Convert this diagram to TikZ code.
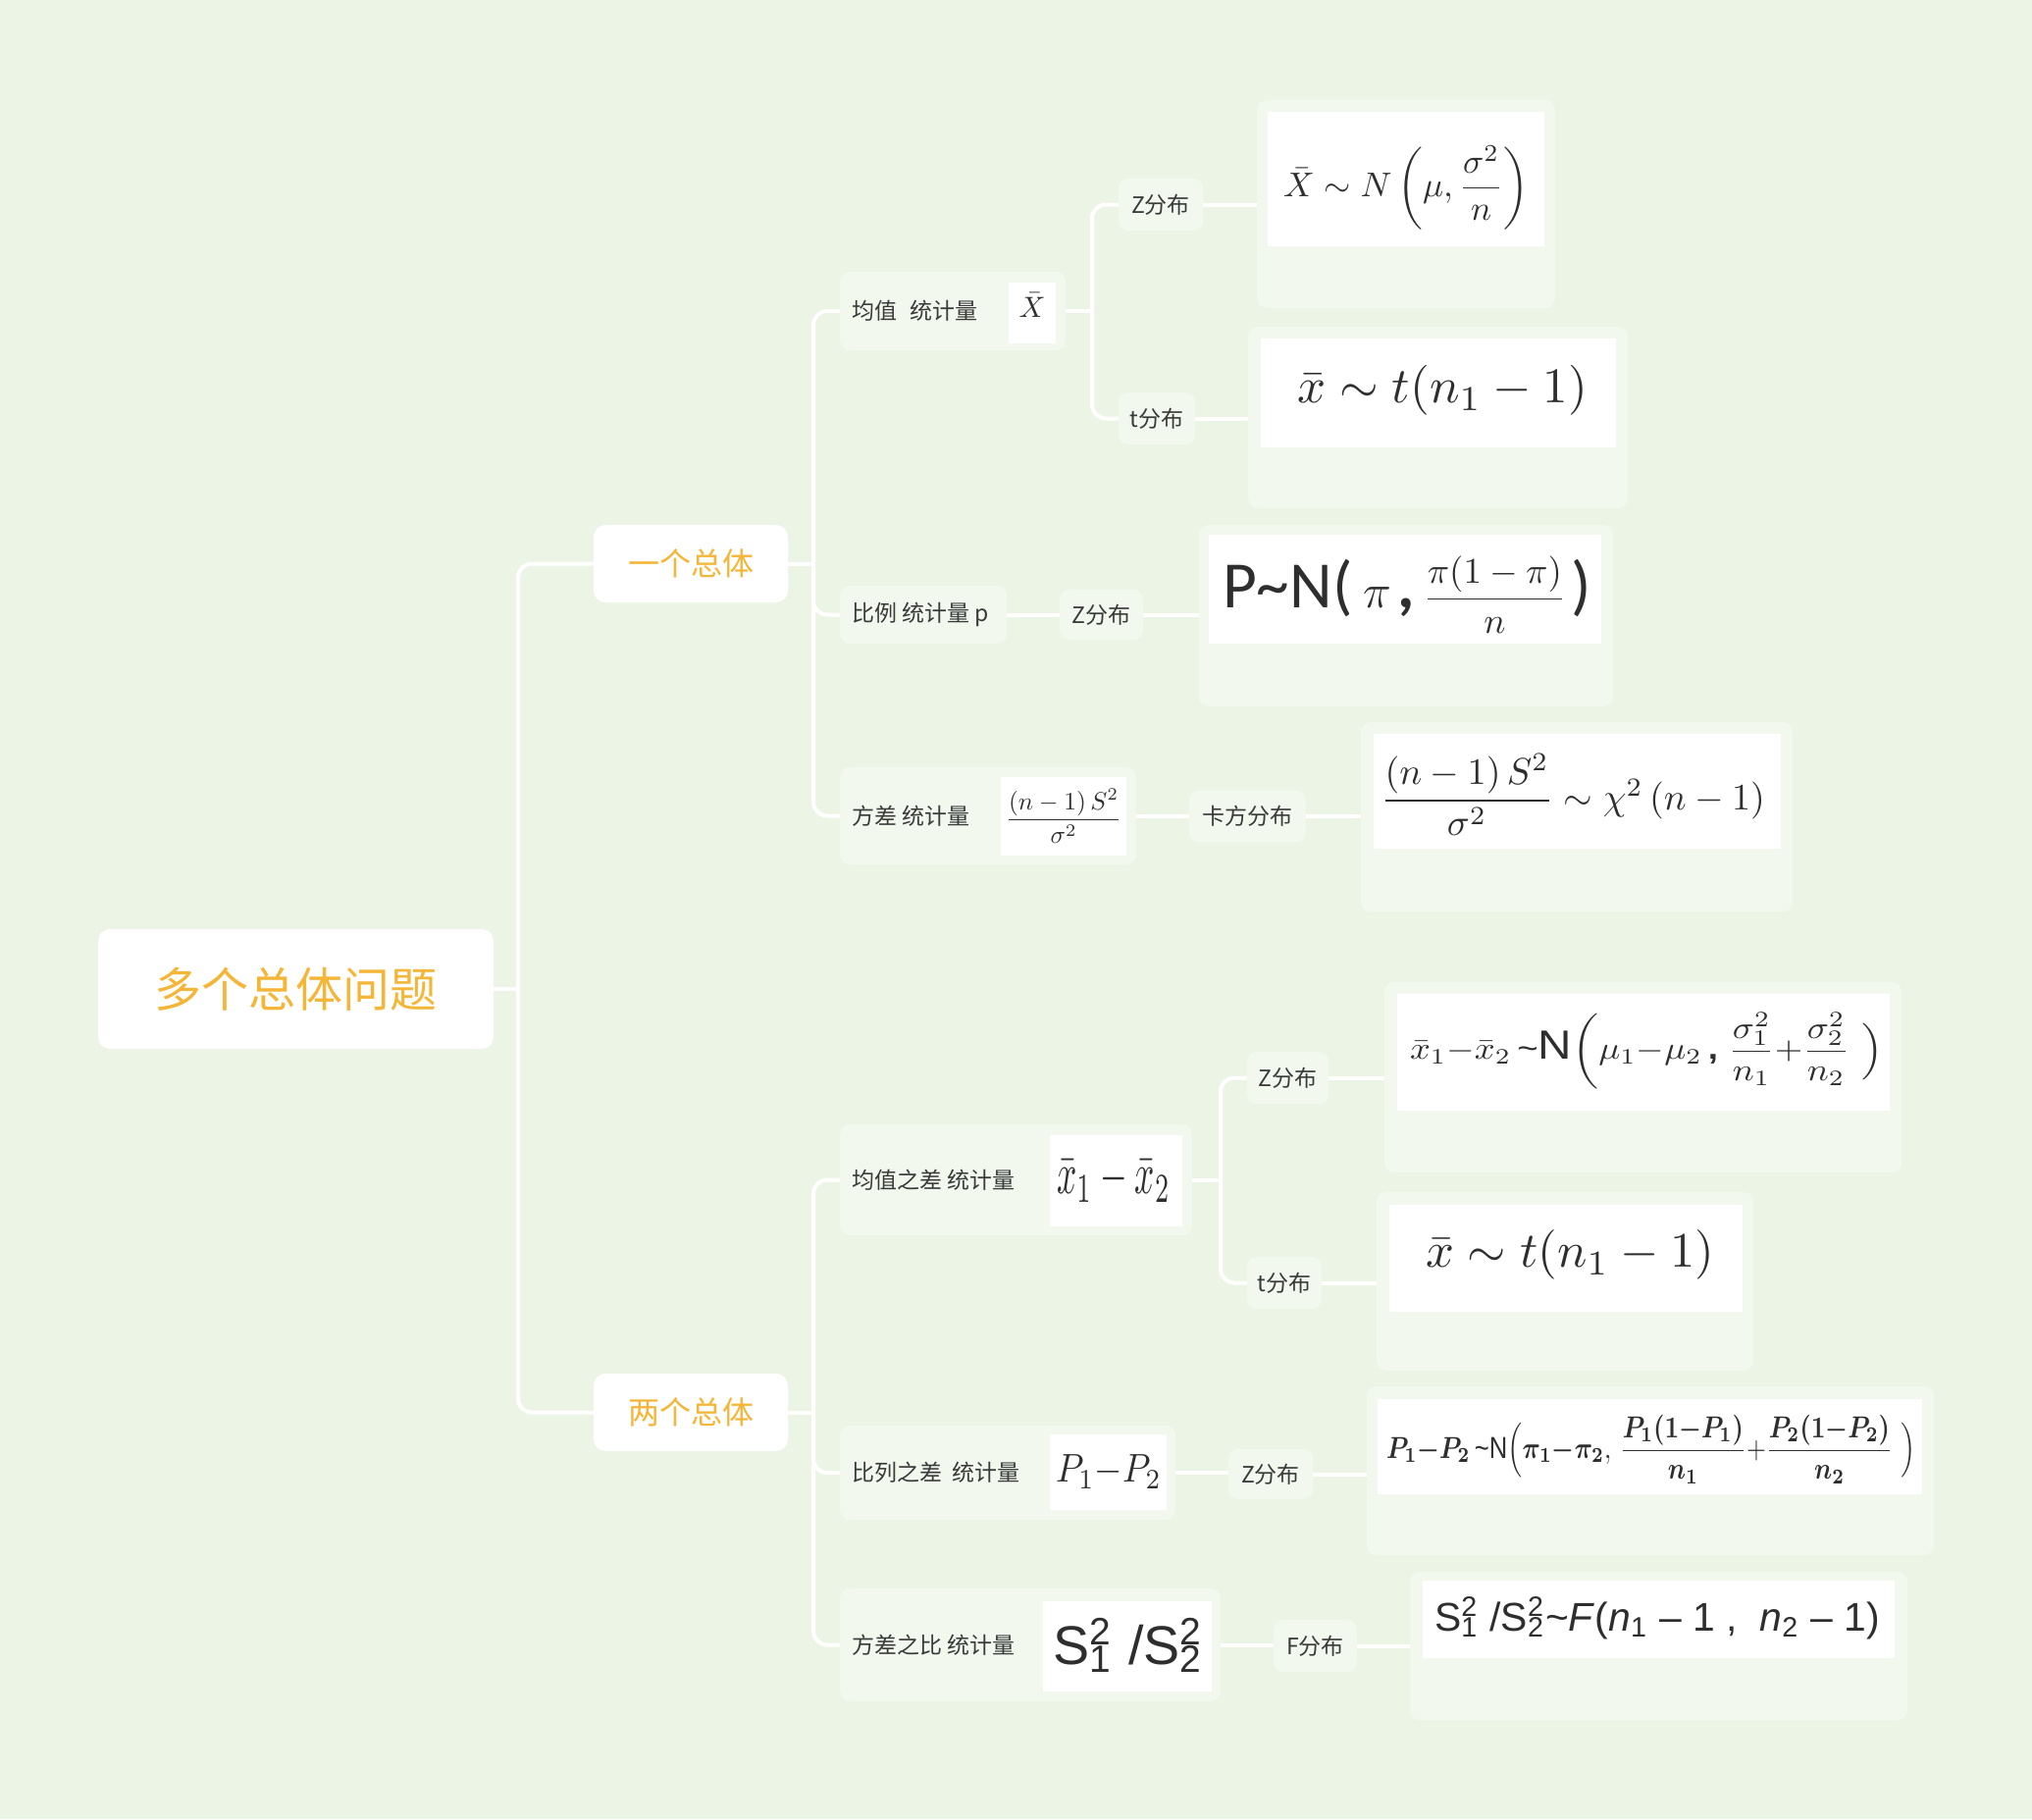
\documentclass[tikz,border=0pt]{standalone}
\usepackage{amsmath}
\usepackage{graphicx}
\usepackage{fontspec}
\newfontfamily\cjk{Noto Sans CJK SC}
\newfontfamily\carlito{Carlito}
\newfontfamily\arial{Liberation Sans}
\newcommand\mysupsub[2]{\makebox[0pt][l]{\textsuperscript{#1}}\textsubscript{#2}}
\definecolor{bgc}{HTML}{ECF4E6}
\definecolor{palec}{HTML}{F2F8EE}
\definecolor{orangec}{HTML}{F5B536}
\definecolor{txtc}{HTML}{3A3A3A}
\tikzset{
  conn/.style={draw=white, line width=2pt, rounded corners=7pt},
  pale/.style={fill=palec, rounded corners=5pt, inner sep=0pt, outer sep=0pt},
  wbox/.style={fill=white, inner sep=0pt, outer sep=0pt},
  topic/.style={fill=white, rounded corners=6pt, inner sep=0pt, outer sep=0pt, text=orangec},
  lbl/.style={font=\cjk\fontsize{11.5pt}{13pt}\selectfont, text=txtc},
  fml/.style={text=black!82, inner sep=0pt}
}
\begin{document}
\begin{tikzpicture}[x=0.5pt,y=-0.5pt]
\fill[bgc] (0,0) rectangle (2071,1854);
\useasboundingbox (0,0) rectangle (2071,1854);

% root and level 1
\node[topic, minimum width=201.5pt, minimum height=61pt, font=\cjk\fontsize{24pt}{28pt}\selectfont] (root) at (301.5,1008) {多个总体问题};
\node[topic, minimum width=99pt, minimum height=39.5pt, font=\cjk\fontsize{16pt}{19pt}\selectfont] (one) at (704,574.5) {一个总体};
\node[topic, minimum width=99pt, minimum height=39.5pt, font=\cjk\fontsize{16pt}{19pt}\selectfont] (two) at (704,1439.5) {两个总体};

% level 2 boxes
\node[pale, minimum width=115pt, minimum height=40pt] (m1) at (971,317) {};
\node[pale, minimum width=85pt, minimum height=29.5pt] (p1) at (941,626.5) {};
\node[pale, minimum width=151pt, minimum height=49.5pt] (v1) at (1007,831.5) {};
\node[pale, minimum width=179.5pt, minimum height=56.5pt] (m2) at (1035.5,1202.5) {};
\node[pale, minimum width=171pt, minimum height=48pt] (p2) at (1027,1501) {};
\node[pale, minimum width=194pt, minimum height=57.5pt] (v2) at (1050,1676.5) {};

\node[lbl, inner sep=0pt, anchor=west] (m1t) at (868,317) {均值\hspace{0.55em}统计量};
\node[lbl, inner sep=0pt, anchor=west] (p1t) at (868,626.5) {比例 统计量 p};
\node[lbl, inner sep=0pt, anchor=west] (v1t) at (868,831.5) {方差 统计量};
\node[lbl, inner sep=0pt, anchor=west] (m2t) at (868,1202.5) {均值之差 统计量};
\node[lbl, inner sep=0pt, anchor=west] (p2t) at (868,1501) {比列之差\hspace{0.45em}统计量};
\node[lbl, inner sep=0pt, anchor=west] (v2t) at (868,1676.5) {方差之比 统计量};

% small formula images
\node[wbox, minimum width=24pt, minimum height=31pt] (mi1) at (1052,319) {};
\node[fml] (mf1) at (1052,311) {\resizebox{13.5pt}{!}{$\bar{X}$}};
\node[wbox, minimum width=64pt, minimum height=40pt] (vi1) at (1084,832) {};
\node[fml] (vf1) at (1084,832) {\resizebox{59pt}{!}{$\dfrac{(n-1)\,S^2}{\sigma^2}$}};
\node[wbox, minimum width=67.5pt, minimum height=46.5pt] (mi2) at (1137.5,1203.5) {};
\node[fml] (mf2) at (1135,1203) {\resizebox*{58pt}{22pt}{$\bar{x}_1-\bar{x}_2$}};
\node[wbox, minimum width=59.5pt, minimum height=38.5pt] (pi2) at (1129.5,1500.5) {};
\node[fml] (pf2) at (1130,1500) {\resizebox*{54pt}{17pt}{$P_1{-}P_2$}};
\node[wbox, minimum width=86pt, minimum height=46pt] (vi2) at (1149,1678) {};
\node[fml] (vf2) at (1150,1677) {\resizebox{77pt}{!}{{\arial S\mysupsub{2}{1} /S\mysupsub{2}{2}}}};

% level 3 labels
\node[pale, lbl, minimum width=43pt, minimum height=26.5pt] (z1) at (1183,208.5) {Z分布};
\node[pale, lbl, minimum width=39pt, minimum height=26.5pt] (t1) at (1179,426.5) {t分布};
\node[pale, lbl, minimum width=42.5pt, minimum height=25.5pt] (z2) at (1122.5,626.5) {Z分布};
\node[pale, lbl, minimum width=59.5pt, minimum height=26pt] (c1) at (1271.5,832) {卡方分布};
\node[pale, lbl, minimum width=41.5pt, minimum height=26.5pt] (z3) at (1312.5,1098.5) {Z分布};
\node[pale, lbl, minimum width=38pt, minimum height=26.5pt] (t3) at (1309,1307.5) {t分布};
\node[pale, lbl, minimum width=43pt, minimum height=25.5pt] (z4) at (1295,1502.5) {Z分布};
\node[pale, lbl, minimum width=42.5pt, minimum height=26.5pt] (f4) at (1340.5,1677.5) {F分布};

% formula outer boxes
\node[pale, minimum width=152pt, minimum height=106pt] (fo1) at (1433,208) {};
\node[pale, minimum width=193.5pt, minimum height=92.5pt] (fo2) at (1465.5,425.5) {};
\node[pale, minimum width=211pt, minimum height=92.5pt] (fo3) at (1433,627.5) {};
\node[pale, minimum width=220pt, minimum height=96.5pt] (fo4) at (1607,832.5) {};
\node[pale, minimum width=263.5pt, minimum height=97pt] (fo5) at (1674.5,1098) {};
\node[pale, minimum width=192pt, minimum height=91pt] (fo6) at (1595,1306) {};
\node[pale, minimum width=289pt, minimum height=86pt] (fo7) at (1682,1499) {};
\node[pale, minimum width=253.5pt, minimum height=75.5pt] (fo8) at (1690.5,1677.5) {};

% formula inner white boxes
\node[wbox, minimum width=141pt, minimum height=68.5pt] (fi1) at (1433,182.5) {};
\node[wbox, minimum width=181pt, minimum height=55.5pt] (fi2) at (1466,400.5) {};
\node[wbox, minimum width=200pt, minimum height=55.5pt] (fi3) at (1432,600.5) {};
\node[wbox, minimum width=207.5pt, minimum height=58.5pt] (fi4) at (1607.5,806.5) {};
\node[wbox, minimum width=251pt, minimum height=59.5pt] (fi5) at (1675,1072.5) {};
\node[wbox, minimum width=180pt, minimum height=54.5pt] (fi6) at (1596,1282.5) {};
\node[wbox, minimum width=277.5pt, minimum height=48.5pt] (fi7) at (1681.5,1474.5) {};
\node[wbox, minimum width=240.5pt, minimum height=39.5pt] (fi8) at (1690.5,1650.5) {};

% formulas
\node[fml] (f1) at (1433,191) {\resizebox{125pt}{!}{$\bar{X} \sim N\left(\mu, \dfrac{\sigma^2}{n}\right)$}};
\node[fml] (f2) at (1470,398) {\resizebox{148pt}{!}{$\bar{x} \sim t(n_1-1)$}};
\node[fml] (f3) at (1434,606) {\resizebox{188pt}{!}{{\carlito\fontsize{20pt}{20pt}\selectfont P\textasciitilde N(\,}{\fontsize{15pt}{15pt}\selectfont$\pi$}\,{\carlito\bfseries\fontsize{20pt}{20pt}\selectfont ,}\;{\fontsize{11pt}{13pt}\selectfont$\dfrac{\pi(1-\pi)}{n}$}\,{\carlito\fontsize{20pt}{20pt}\selectfont )}}};
\node[fml] (f4m) at (1603,810) {\resizebox{196pt}{!}{$\dfrac{(n-1)\,S^2}{\sigma^2}\sim\chi^2\,(n-1)$}};
\node[fml] (f5) at (1678,1071) {\resizebox*{241pt}{39pt}{$\bar{x}_1{-}\bar{x}_2$\,{\arial\textasciitilde}{\arial\fontsize{13pt}{13pt}\selectfont N}$\biggl(\mu_1{-}\mu_2$\,{\arial\bfseries ,}\;$\dfrac{\sigma_1^2}{n_1}{+}\dfrac{\sigma_2^2}{n_2}\ \Bigr)$}};
\node[fml] (f6) at (1600,1279) {\resizebox{147pt}{!}{$\bar{x} \sim t(n_1-1)$}};
\node[fml] (f7) at (1683,1477) {\resizebox*{270pt}{35pt}{$\boldsymbol{P_1{-}P_2}$\,{\arial\textasciitilde N}$\Bigl(\boldsymbol{\pi_1{-}\pi_2},\,\dfrac{\boldsymbol{P_1(1{-}P_1)}}{\boldsymbol{n_1}}{+}\dfrac{\boldsymbol{P_2(1{-}P_2)}}{\boldsymbol{n_2}}\ \Bigr)$}};
\node[fml] (f8) at (1689,1649) {\resizebox{227pt}{!}{{\arial S\mysupsub{2}{1} /S\mysupsub{2}{2}\textasciitilde\textit{F}(\textit{n}\textsubscript{1} – 1 ,\ \ \textit{n}\textsubscript{2} – 1)}}};

% connectors
\coordinate (j0) at (528,1008);
\coordinate (j1) at (829,574.5);
\coordinate (j3) at (829,1439.5);
\coordinate (j2) at (1113,317);
\coordinate (j4) at (1244,1202.5);

\draw[conn] (root.east) -- (j0);
\draw[conn] (j0) |- (one.west);
\draw[conn] (j0) |- (two.west);

\draw[conn] (one.east) -- (j1);
\draw[conn] (j1) |- (m1.west);
\draw[conn] (j1) |- (p1.west);
\draw[conn] (j1) |- (v1.west);

\draw[conn] (two.east) -- (j3);
\draw[conn] (j3) |- (m2.west);
\draw[conn] (j3) |- (p2.west);
\draw[conn] (j3) |- (v2.west);

\draw[conn] (m1.east) -- (j2);
\draw[conn] (j2) |- (z1.west);
\draw[conn] (j2) |- (t1.west);
\draw[conn] (z1.east) -- (z1.east -| fo1.west);
\draw[conn] (t1.east) -- (t1.east -| fo2.west);

\draw[conn] (p1.east) -- (p1.east -| z2.west);
\draw[conn] (z2.east) -- (z2.east -| fo3.west);
\draw[conn] (v1.east) -- (v1.east -| c1.west);
\draw[conn] (c1.east) -- (c1.east -| fo4.west);

\draw[conn] (m2.east) -- (j4);
\draw[conn] (j4) |- (z3.west);
\draw[conn] (j4) |- (t3.west);
\draw[conn] (z3.east) -- (z3.east -| fo5.west);
\draw[conn] (t3.east) -- (t3.east -| fo6.west);

\draw[conn] (p2.east) -- (p2.east -| z4.west);
\draw[conn] (z4.east) -- (z4.east -| fo7.west);
\draw[conn] (v2.east) -- (v2.east -| f4.west);
\draw[conn] (f4.east) -- (f4.east -| fo8.west);
\end{tikzpicture}
\end{document}
